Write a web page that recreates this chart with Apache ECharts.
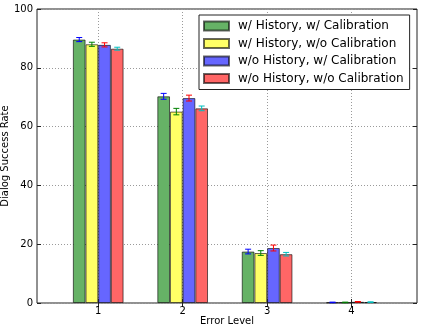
<!DOCTYPE html>
<html>
<head>
<meta charset="utf-8">
<script src="https://cdn.jsdelivr.net/npm/echarts@6/dist/echarts.min.js"></script>
</head>
<body style="margin:0">
<div id="main" style="width:424px;height:328px"></div>
<script>
// error levels on the x axis
var levels = [1, 2, 3, 4];
var seriesNames = [
  'w/ History, w/ Calibration',
  'w/ History, w/o Calibration',
  'w/o History, w/ Calibration',
  'w/o History, w/o Calibration'
];
// success rate per level
var wHistWCal = [89.6, 70.3, 17.5, 0.2];
var wHistWoCal = [88.0, 65.1, 17.0, 0.2];
var woHistWCal = [87.8, 69.7, 18.7, 0.4];
var woHistWoCal = [86.5, 66.2, 16.6, 0.3];
// error bar half-widths
var errWHistWCal = [0.7, 1.0, 0.8, 0.1];
var errWHistWoCal = [0.7, 1.1, 0.8, 0.1];
var errWoHistWCal = [0.7, 1.0, 1.0, 0.1];
var errWoHistWoCal = [0.5, 0.8, 0.6, 0.1];

var values = [wHistWCal, wHistWoCal, woHistWCal, woHistWoCal];
var errors = [errWHistWCal, errWHistWoCal, errWoHistWCal, errWoHistWoCal];
var barColors = ['#66b266', '#ffff66', '#6666ff', '#ff6666'];
var errColors = ['#0000ff', '#008000', '#ff0000', '#00bfbf'];
var offsets = [-0.225, -0.075, 0.075, 0.225];

var font = 'DejaVu Sans';
var series = [];

values.forEach(function (vals, i) {
  series.push({
    name: seriesNames[i],
    type: 'bar',
    xAxisIndex: 0,
    yAxisIndex: 0,
    barWidth: 12.7,
    barGap: '-100%',
    itemStyle: {color: barColors[i], borderColor: 'rgba(0,0,0,0.6)', borderWidth: 1},
    data: levels.map(function (l, k) { return [l + offsets[i], vals[k]]; })
  });
});

values.forEach(function (vals, i) {
  var col = errColors[i];
  series.push({
    type: 'custom',
    xAxisIndex: 0,
    yAxisIndex: 0,
    z: 5,
    encode: {x: 0, y: [1, 2]},
    data: levels.map(function (l, k) {
      return [l + offsets[i], vals[k] - errors[i][k], vals[k] + errors[i][k]];
    }),
    renderItem: function (params, api) {
      var x = api.value(0);
      var lo = api.coord([x, api.value(1)]);
      var hi = api.coord([x, api.value(2)]);
      var c = 3;
      var st = {stroke: col, lineWidth: 1};
      return {type: 'group', children: [
        {type: 'line', shape: {x1: lo[0], y1: lo[1], x2: hi[0], y2: hi[1]}, style: st},
        {type: 'line', shape: {x1: lo[0] - c, y1: lo[1], x2: lo[0] + c, y2: lo[1]}, style: st},
        {type: 'line', shape: {x1: hi[0] - c, y1: hi[1], x2: hi[0] + c, y2: hi[1]}, style: st}
      ]};
    }
  });
});

var dotted = {color: '#9a9a9a', type: [1, 2], width: 1};

var option = {
  animation: false,
  textStyle: {fontFamily: font},
  grid: {left: 37, right: 7, top: 9, bottom: 25, outerBoundsMode: 'none', containLabel: false,
    show: true, borderColor: '#222', borderWidth: 1},
  legend: {
    data: seriesNames,
    orient: 'vertical',
    left: 199,
    top: 15,
    padding: [5, 6, 5, 4],
    icon: 'rect',
    itemWidth: 25,
    itemHeight: 9,
    itemGap: 5.5,
    borderColor: '#222',
    borderWidth: 1,
    backgroundColor: '#fff',
    textStyle: {fontFamily: font, fontSize: 12, color: '#000', padding: [0, 0, 0, 4]}
  },
  xAxis: [{
    type: 'value',
    min: 0.275,
    max: 4.775,
    name: 'Error Level',
    nameLocation: 'middle',
    nameGap: 13,
    nameMoveOverlap: false,
    nameTextStyle: {fontFamily: font, fontSize: 10, color: '#000'},
    axisLine: {show: false},
    axisTick: {inside: true, length: 4, customValues: levels, lineStyle: {color: '#222'}},
    axisLabel: {customValues: levels, fontFamily: font, fontSize: 10, color: '#000', margin: 3},
    splitLine: {show: true, lineStyle: dotted}
  }, {
    type: 'value',
    position: 'top',
    min: 0.275,
    max: 4.775,
    axisLine: {show: false},
    axisTick: {inside: true, length: 4, customValues: levels, lineStyle: {color: '#222'}},
    axisLabel: {show: false},
    splitLine: {show: false}
  }],
  yAxis: [{
    type: 'value',
    min: 0,
    max: 100,
    interval: 20,
    name: 'Dialog Success Rate',
    nameLocation: 'middle',
    nameGap: 27,
    nameMoveOverlap: false,
    nameTextStyle: {fontFamily: font, fontSize: 10, color: '#000'},
    axisLine: {show: false},
    axisTick: {show: true, inside: true, length: 4, lineStyle: {color: '#222'}},
    axisLabel: {fontFamily: font, fontSize: 10, color: '#000', margin: 4},
    splitLine: {show: true, lineStyle: dotted}
  }, {
    type: 'value',
    position: 'right',
    min: 0,
    max: 100,
    interval: 20,
    axisLine: {show: false},
    axisTick: {show: true, inside: true, length: 4, lineStyle: {color: '#222'}},
    axisLabel: {show: false},
    splitLine: {show: false}
  }],
  series: series
};

var myChart = echarts.init(document.getElementById('main'));
myChart.setOption(option);
</script>
</body>
</html>
